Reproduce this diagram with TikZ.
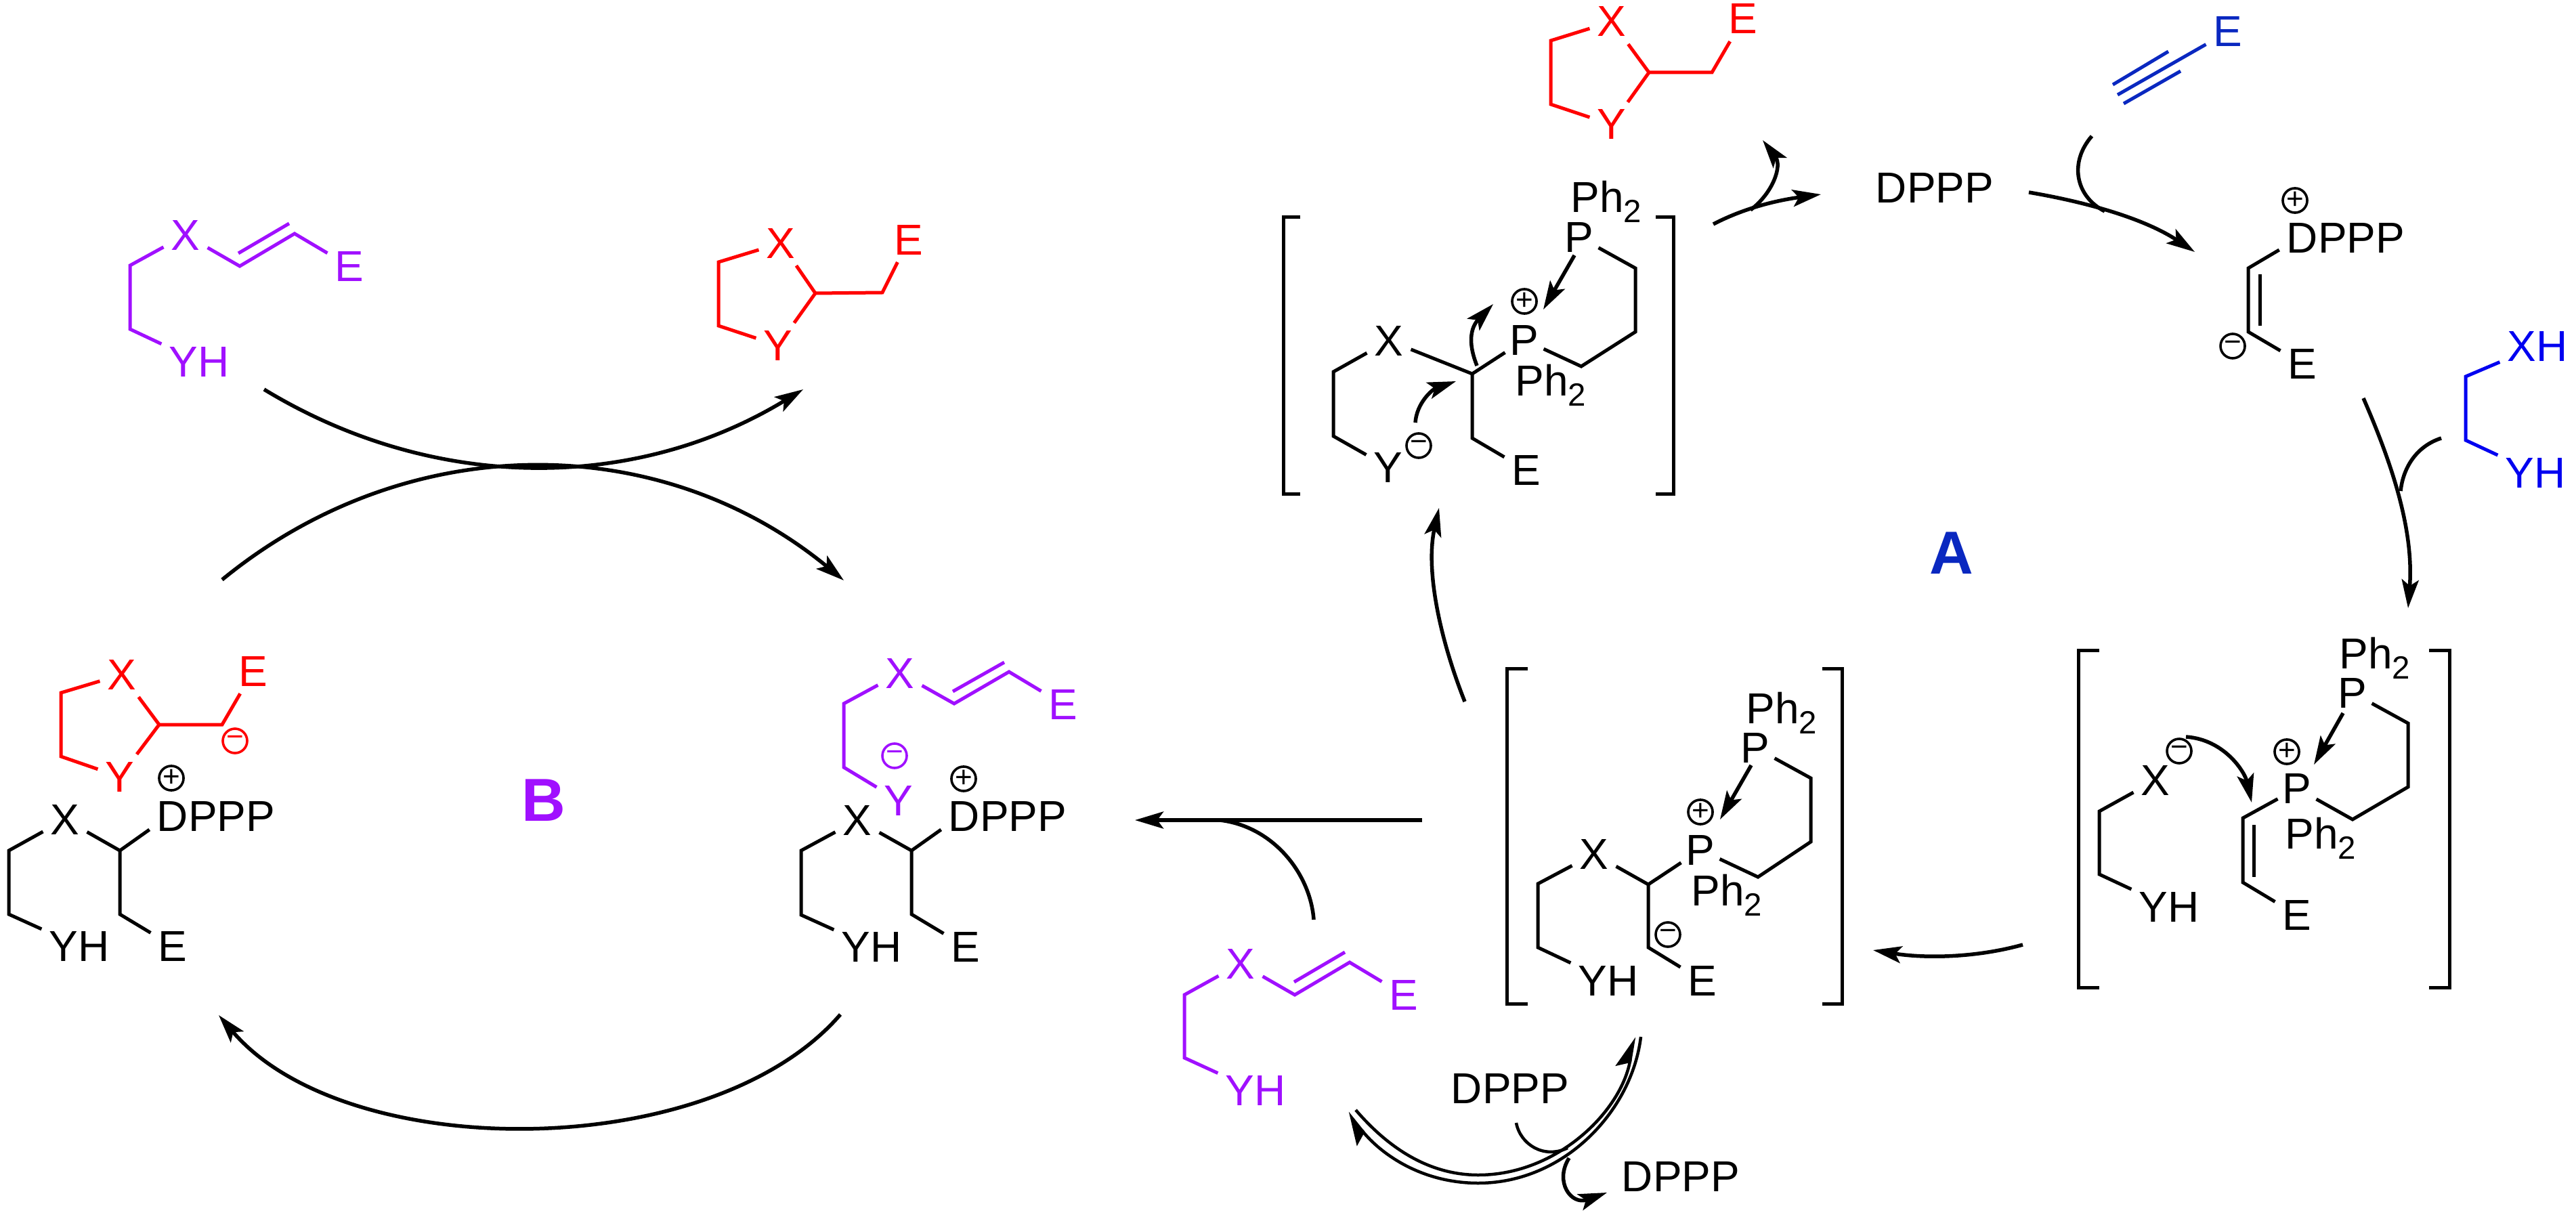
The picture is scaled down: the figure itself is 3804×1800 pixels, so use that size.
\documentclass[tikz,border=0pt]{standalone}
\usepackage{fontspec}
\usepackage{tikz}
\usetikzlibrary{arrows.meta}
\setmainfont{Liberation Sans}
\definecolor{violetb}{HTML}{A010FF}
\definecolor{darkb}{HTML}{0A28C0}
\definecolor{lightb}{HTML}{0000F0}
\newcommand{\phtwo}{Ph\raisebox{-1.5mm}{\fontsize{13.5}{14}\selectfont 2}}
\tikzset{
  atom/.style={inner sep=1.05mm,font=\fontsize{18.2}{20}\selectfont},
  patom/.style={atom,inner sep=0.65mm},
  phlab/.style={anchor=base west,inner sep=0pt,font=\fontsize{18.2}{20}\selectfont},
  chg/.style={draw,circle,minimum size=3.6mm,inner sep=0pt,line width=0.36mm,font=\fontsize{12.5}{13}\selectfont},
  cyclelab/.style={inner sep=0pt,font=\fontsize{25.5}{28}\selectfont\bfseries},
  bond/.style={draw,line width=0.5mm},
  line/.style={draw,line width=0.55mm},
  arr/.style={draw,line width=0.55mm,-{Stealth[length=4.2mm,width=2.5mm,inset=0.9mm]}},
  hcurve/.style={draw,line width=0.45mm},
  harr/.style={draw,line width=0.45mm,-{Stealth[harpoon,length=4.2mm,width=4mm,inset=0.8mm]}}
}
\begin{document}
\begin{tikzpicture}[x=0.1mm,y=-0.1mm]
    \useasboundingbox (0,0) rectangle (3804,1800);

    % purple substrate, top left
    \node[atom,violetb] (smx) at (274,347) {X};
    \node[atom,violetb] (smy) at (294,534) {YH};
    \node[atom,violetb] (sme) at (516,393) {E};
    \draw[bond,violetb] (smx) -- (192,392) -- (192,486) -- (smy);
    \draw[bond,violetb] (smx) -- (354,393) -- (435,345) -- (sme);
    \draw[bond,violetb] (352,374) -- (427,330);

    % red product, top left
    \node[atom,red] (prx) at (1153,359) {X};
    \node[atom,red] (pry) at (1149,510) {Y};
    \node[atom,red] (pre) at (1342,354) {E};
    \draw[bond,red] (prx) -- (1061,387) -- (1061,481) -- (pry);
    \draw[bond,red] (prx) -- (1204,433) -- (pry);
    \draw[bond,red] (1204,433) -- (1303,432) -- (pre);

    % left adduct
    \node[atom,red] (rax) at (180,996) {X};
    \node[atom,red] (ray) at (177,1147) {Y};
    \node[atom,red] (rae) at (374,991) {E};
    \node[chg,red] (ram) at (347,1094) {−};
    \draw[bond,red] (rax) -- (90,1023) -- (90,1117) -- (ray);
    \draw[bond,red] (rax) -- (235,1070) -- (ray);
    \draw[bond,red] (235,1070) -- (328,1070) -- (rae);
    \node[chg] (lap) at (253,1149) {+};
    \node[atom] (lax) at (96,1210) {X};
    \node[atom] (lay) at (117,1397) {YH};
    \node[atom] (lae) at (255,1397) {E};
    \node[atom] (lad) at (319,1205) {DPPP};
    \draw[bond] (lax) -- (13,1256) -- (13,1350) -- (lay);
    \draw[bond] (lax) -- (177,1256) -- ([yshift=-2mm]lad.west);
    \draw[bond] (177,1256) -- (177,1350) -- (lae);

    % right adduct
    \node[atom,violetb] (pux) at (1329,994) {X};
    \node[atom,violetb] (puy) at (1327,1182) {Y};
    \node[atom,violetb] (pue) at (1570,1040) {E};
    \node[chg,violetb] (pum) at (1321,1116) {−};
    \draw[bond,violetb] (pux) -- (1246,1039) -- (1246,1133) -- (puy);
    \draw[bond,violetb] (pux) -- (1409,1039) -- (1490,992) -- (pue);
    \draw[bond,violetb] (1407,1021) -- (1483,978);
    \node[chg] (rip) at (1423,1150) {+};
    \node[atom] (rix) at (1266,1211) {X};
    \node[atom] (riy) at (1287,1398) {YH};
    \node[atom] (rie) at (1426,1398) {E};
    \node[atom] (rid) at (1488,1205) {DPPP};
    \draw[bond] (rix) -- (1183,1256) -- (1183,1351) -- (riy);
    \draw[bond] (rix) -- (1346,1256) -- ([yshift=-2mm]rid.west);
    \draw[bond] (1346,1256) -- (1346,1350) -- (rie);

    % cycle B arrows
    \coordinate (ba) at (390,575); \coordinate (bb) at (1186,575);
    \coordinate (bc) at (328,856); \coordinate (bd) at (1246,857);
    \coordinate (be) at (1241,1498); \coordinate (bf) at (323,1499);
    \draw[arr] (ba) .. controls (640,727) and (936,727) .. (bb);
    \draw[arr] (bc) .. controls (600,633) and (974,633) .. (bd);
    \draw[arr] (be) .. controls (1050,1719) and (510,1719) .. (bf);
    \node[cyclelab,violetb] (lblb) at (803,1182) {B};

    % red product, top
    \node[atom,red] (erx) at (2380,32) {X};
    \node[atom,red] (ery) at (2380,184) {Y};
    \node[atom,red] (ere) at (2574,28) {E};
    \draw[bond,red] (erx) -- (2290,60) -- (2290,154) -- (ery);
    \draw[bond,red] (erx) -- (2435,107) -- (ery);
    \draw[bond,red] (2435,107) -- (2528,107) -- (ere);

    % top bracket
    \draw[bond] (1920,321) -- (1895,321) -- (1895,729) -- (1920,729);
    \draw[bond] (2445,321) -- (2471,321) -- (2471,729) -- (2445,729);
    \node[phlab] (tbph) at (2319,314) {\phtwo};
    \node[patom] (tbq) at (2332,350) {P};
    \node[patom] (tbr) at (2251,502) {P};
    \node[phlab] (tbpi) at (2237,584) {\phtwo};
    \node[chg] (tbp) at (2251,445) {+};
    \node[atom] (tbx) at (2051,503) {X};
    \node[atom] (tby) at (2050,690) {Y};
    \node[chg] (tbm) at (2095,658) {−};
    \node[atom] (tbe) at (2254,694) {E};
    \draw[bond] (tbq) -- (2415,396) -- (2415,490) -- (2335,541) -- (tbr);
    \draw[bond] (tbr) -- (2174,552) -- (tbx);
    \draw[bond] (tbx) -- (1969,549) -- (1969,644) -- (tby);
    \draw[bond] (2174,552) -- (2174,647) -- (tbe);
    \coordinate (ta) at (2325,377); \coordinate (tb) at (2279,457);
    \coordinate (tc) at (2181,540); \coordinate (td) at (2205,449);
    \coordinate (te) at (2090,624); \coordinate (tf) at (2150,563);
    \draw[arr] (ta) -- (tb);
    \draw[arr] (tc) .. controls (2165,500) and (2175,480) .. (td);
    \draw[arr] (te) .. controls (2092,595) and (2115,575) .. (tf);

    % DPPP release and addition to the alkyne
    \node[atom] (dp) at (2857,277) {DPPP};
    \coordinate (ua) at (2530,331); \coordinate (ub) at (2689,287);
    \coordinate (uj) at (2585,310); \coordinate (uc) at (2603,207);
    \draw[arr] (ua) .. controls (2580,305) and (2630,295) .. (ub);
    \draw[arr] (uj) .. controls (2618,285) and (2632,245) .. (uc);
    \node[atom,darkb] (ake) at (3290,47) {E};
    \draw[bond,darkb] (3127,140) -- (ake);
    \draw[bond,darkb] (3120,125) -- (3202,76);
    \draw[bond,darkb] (3136,153) -- (3220,105);
    \coordinate (va) at (2996,284); \coordinate (vb) at (3241,372);
    \coordinate (vc) at (3089,201); \coordinate (vj) at (3108,312);
    \draw[arr] (va) .. controls (3090,300) and (3170,325) .. (vb);
    \draw[line] (vc) .. controls (3055,240) and (3065,290) .. (vj);

    % vinyl phosphonium
    \node[chg] (vip) at (3389,296) {+};
    \node[atom] (vid) at (3464,351) {DPPP};
    \node[chg] (vim) at (3297,511) {−};
    \node[atom] (vie) at (3400,537) {E};
    \draw[bond] ([yshift=-1.8mm]vid.west) -- (3320,396) -- (3320,490) -- (vie);
    \draw[bond] (3337,405) -- (3337,481);

    % blue diol
    \node[atom,lightb] (dox) at (3747,511) {XH};
    \node[atom,lightb] (doy) at (3744,698) {YH};
    \draw[bond,lightb] (dox) -- (3641,556) -- (3641,650) -- (doy);
    \coordinate (wa) at (3490,588); \coordinate (wb) at (3556,898);
    \coordinate (wc) at (3605,647); \coordinate (wj) at (3545,725);
    \draw[arr] (wa) .. controls (3530,680) and (3565,780) .. (wb);
    \draw[line] (wc) .. controls (3565,660) and (3548,695) .. (wj);

    % right bracket
    \draw[bond] (3100,960) -- (3069,960) -- (3069,1458) -- (3100,1458);
    \draw[bond] (3587,960) -- (3617,960) -- (3617,1458) -- (3587,1458);
    \node[phlab] (brph) at (3454,987) {\phtwo};
    \node[patom] (brq) at (3474,1023) {P};
    \node[patom] (brr) at (3392,1164) {P};
    \node[phlab] (brpi) at (3374,1253) {\phtwo};
    \node[chg] (brp) at (3377,1110) {+};
    \node[atom] (brx) at (3183,1152) {X};
    \node[chg] (brm) at (3218,1109) {−};
    \node[atom] (bry) at (3203,1339) {YH};
    \node[atom] (bre) at (3392,1351) {E};
    \draw[bond] (brq) -- (3556,1068) -- (3556,1162) -- (3474,1210) -- (brr);
    \draw[bond] (brr) -- (3312,1208) -- (3312,1303) -- (bre);
    \draw[bond] (3328,1218) -- (3328,1295);
    \draw[bond] (brx) -- (3100,1198) -- (3100,1291) -- (bry);
    \coordinate (xa) at (3460,1053); \coordinate (xb) at (3417,1129);
    \coordinate (xc) at (3228,1088); \coordinate (xd) at (3325,1185);
    \draw[arr] (xa) -- (xb);
    \draw[arr] (xc) .. controls (3285,1092) and (3315,1140) .. (xd);

    % middle bracket
    \draw[bond] (2256,987) -- (2225,987) -- (2225,1482) -- (2256,1482);
    \draw[bond] (2691,987) -- (2720,987) -- (2720,1482) -- (2691,1482);
    \node[phlab] (mbph) at (2578,1068) {\phtwo};
    \node[patom] (mbq) at (2592,1104) {P};
    \node[patom] (mbr) at (2511,1255) {P};
    \node[phlab] (mbpi) at (2497,1337) {\phtwo};
    \node[chg] (mbp) at (2511,1199) {+};
    \node[atom] (mbx) at (2354,1261) {X};
    \node[atom] (mby) at (2375,1448) {YH};
    \node[chg] (mbm) at (2463,1380) {−};
    \node[atom] (mbe) at (2514,1448) {E};
    \draw[bond] (mbq) -- (2674,1149) -- (2674,1243) -- (2596,1295) -- (mbr);
    \draw[bond] (mbr) -- (2434,1306) -- (mbx);
    \draw[bond] (mbx) -- (2271,1305) -- (2271,1399) -- (mby);
    \draw[bond] (2434,1306) -- (2434,1399) -- (mbe);
    \coordinate (ya) at (2586,1130); \coordinate (yb) at (2540,1210);
    \draw[arr] (ya) -- (yb);

    % arrows of cycle A
    \coordinate (za) at (2987,1395); \coordinate (zb) at (2766,1403);
    \coordinate (zc) at (2163,1036); \coordinate (zd) at (2125,750);
    \draw[arr] (za) .. controls (2915,1415) and (2840,1415) .. (zb);
    \draw[arr] (zc) .. controls (2125,940) and (2105,840) .. (zd);
    \node[cyclelab,darkb] (lbla) at (2882,817) {A};

    % hand over from A to B
    \coordinate (ha) at (2100,1211); \coordinate (hb) at (1676,1211);
    \coordinate (hc) at (1940,1358); \coordinate (hj) at (1801,1211);
    \draw[arr] (ha) -- (hb);
    \draw[line] (hc) .. controls (1935,1290) and (1880,1220) .. (hj);
    \node[atom,violetb] (lpx) at (1832,1423) {X};
    \node[atom,violetb] (lpy) at (1854,1610) {YH};
    \node[atom,violetb] (lpe) at (2073,1469) {E};
    \draw[bond,violetb] (lpx) -- (1749,1469) -- (1749,1562) -- (lpy);
    \draw[bond,violetb] (lpx) -- (1912,1469) -- (1993,1421) -- (lpe);
    \draw[bond,violetb] (1911,1450) -- (1986,1406);

    % equilibrium with DPPP
    \node[atom] (dpin) at (2230,1607) {DPPP};
    \node[atom] (dpout) at (2482,1737) {DPPP};
    \coordinate (ea) at (2423,1531); \coordinate (eb) at (1990,1643);
    \coordinate (ec) at (2002,1639); \coordinate (ed) at (2413,1531);
    \coordinate (ee) at (2239,1658); \coordinate (ej) at (2315,1695);
    \coordinate (ef) at (2317,1710); \coordinate (eg) at (2373,1761);
    \draw[harr] (ea) .. controls (2410,1640) and (2310,1747) .. (2183,1747) .. controls (2100,1747) and (2040,1705) .. (eb);
    \draw[harr] (ec) .. controls (2050,1695) and (2110,1735) .. (2183,1735) .. controls (2300,1735) and (2395,1640) .. (ed);
    \draw[hcurve] (ee) .. controls (2245,1690) and (2280,1712) .. (ej);
    \draw[arr] (ef) .. controls (2295,1745) and (2320,1780) .. (eg);
\end{tikzpicture}
\end{document}
